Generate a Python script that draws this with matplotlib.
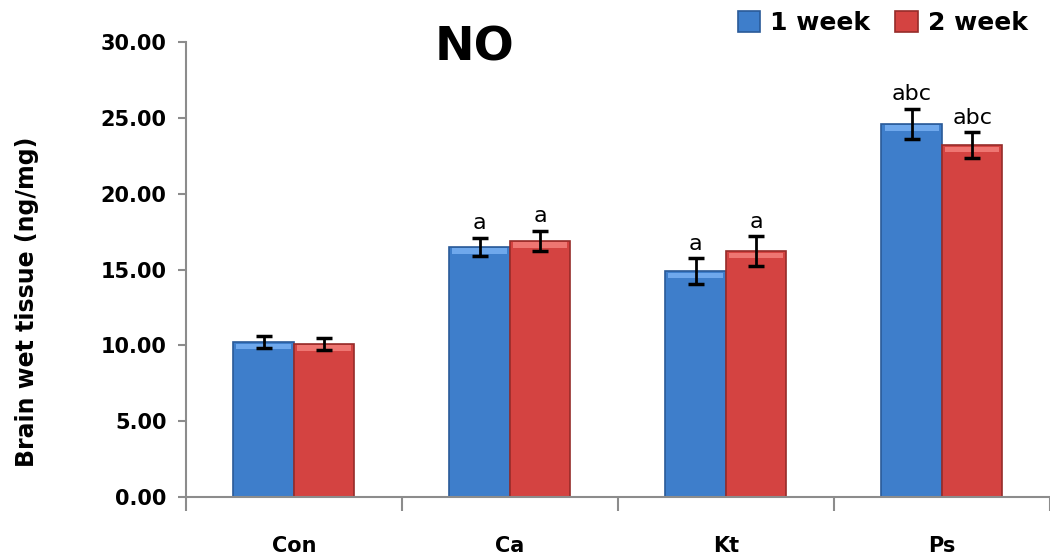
import matplotlib.pyplot as plt
import numpy as np

groups = ['Con', 'Ca', 'Kt', 'Ps']
week1 = [10.2, 16.5, 14.9, 24.6]
week2 = [10.1, 16.9, 16.2, 23.2]
err1 = [0.4, 0.6, 0.85, 1.0]
err2 = [0.4, 0.65, 1.0, 0.85]
marks1 = ['', 'a', 'a', 'abc']
marks2 = ['', 'a', 'a', 'abc']

fig = plt.figure(figsize=(10.5, 5.6), dpi=100)
ax = fig.add_axes([0.177, 0.1125, 0.823, 0.8125])

x = np.arange(len(groups))
w = 0.28
b1 = ax.bar(x - w / 2, week1, w, color='#3E7ECB', edgecolor='#2A5A98', linewidth=1.2, label='1 week', zorder=2)
b2 = ax.bar(x + w / 2, week2, w, color='#D44341', edgecolor='#962C2A', linewidth=1.2, label='2 week', zorder=2)
# light strip at the top of each bar, like the glossy original
ax.bar(x - w / 2, [0.35] * 4, w * 0.9, bottom=np.array(week1) - 0.45, color='#6FA8EC', linewidth=0, zorder=2.5)
ax.bar(x + w / 2, [0.35] * 4, w * 0.9, bottom=np.array(week2) - 0.45, color='#EE7672', linewidth=0, zorder=2.5)
ax.errorbar(x - w / 2, week1, yerr=err1, fmt='none', ecolor='black', elinewidth=2, capsize=6, capthick=2.5, zorder=3)
ax.errorbar(x + w / 2, week2, yerr=err2, fmt='none', ecolor='black', elinewidth=2, capsize=6, capthick=2.5, zorder=3)

for i in range(len(groups)):
    if marks1[i]:
        ax.text(x[i] - w / 2, week1[i] + err1[i] + 0.3, marks1[i], ha='center', va='bottom', fontsize=16)
    if marks2[i]:
        ax.text(x[i] + w / 2, week2[i] + err2[i] + 0.3, marks2[i], ha='center', va='bottom', fontsize=16)

ax.set_xlim(-0.5, 3.5)
ax.set_ylim(0, 30)
ax.set_yticks(np.arange(0, 30.01, 5))
ax.set_yticklabels(['%.2f' % v for v in np.arange(0, 30.01, 5)], fontsize=15, fontweight='bold')
ax.set_xticks(x)
ax.set_xticklabels(groups, fontsize=15, fontweight='bold')
ax.set_xticks(np.arange(-0.5, 3.6, 1), minor=True)
ax.tick_params(axis='x', which='major', length=0, pad=28)
ax.tick_params(axis='x', which='minor', length=10, width=1.5, color='#8c8c8c')
ax.tick_params(axis='y', length=6, width=1.5, color='#8c8c8c', pad=8)
for s in ['top', 'right']:
    ax.spines[s].set_visible(False)
for s in ['left', 'bottom']:
    ax.spines[s].set_color('#8c8c8c')
    ax.spines[s].set_linewidth(1.5)

ax.set_ylabel('Brain wet tissue (ng/mg)', fontsize=17, fontweight='bold', labelpad=34)
ax.yaxis.set_label_coords(-0.17, 0.43)
fig.text(0.452, 0.915, 'NO', fontsize=34, fontweight='bold', ha='center', va='center')
fig.legend(handles=[b1, b2], loc='upper right', bbox_to_anchor=(1.0, 1.02), ncol=2, frameon=False,
           prop={'size': 18, 'weight': 'bold'}, handlelength=0.9, handleheight=0.9, columnspacing=1.0, handletextpad=0.4)

fig.savefig('out.png', dpi=100)
